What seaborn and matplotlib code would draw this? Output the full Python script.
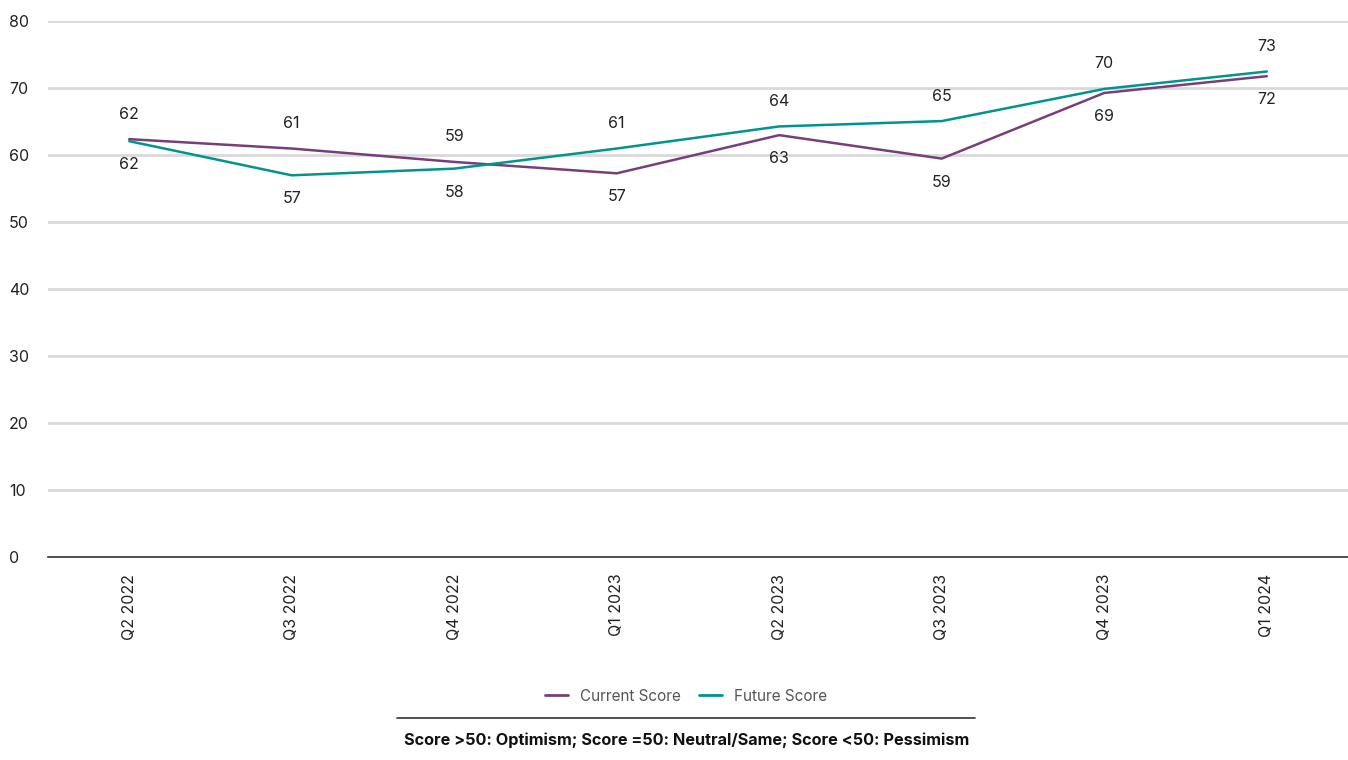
import pandas as pd
import numpy as np
import matplotlib
matplotlib.use("Agg")
import matplotlib.pyplot as plt
import seaborn as sns

# data
quarters = ['Q2 2022', 'Q3 2022', 'Q4 2022', 'Q1 2023', 'Q2 2023', 'Q3 2023', 'Q4 2023', 'Q1 2024']
current = [62.4, 61.0, 59.0, 57.3, 63.0, 59.5, 69.3, 71.8]
future = [62.1, 57.0, 58.0, 61.0, 64.3, 65.1, 69.9, 72.5]
current_labels = [62, 61, 59, 57, 63, 59, 69, 72]
future_labels = [62, 57, 58, 61, 64, 65, 70, 73]

purple = '#773F7A'
teal = '#00948F'

sns.set_theme(style='white')
plt.rcParams['font.family'] = ['Inter', 'DejaVu Sans']

df = pd.DataFrame({
    'Quarter': quarters * 2,
    'Score': current + future,
    'Series': ['Current Score'] * len(quarters) + ['Future Score'] * len(quarters),
})

fig = plt.figure(figsize=(13.48, 7.6), dpi=100)
ax = fig.add_axes([0.0356, 0.267, 0.9644, 0.705])

sns.lineplot(data=df, x='Quarter', y='Score', hue='Series', sort=False,
             palette=[purple, teal], linewidth=1.8, ax=ax, legend=False)

ax.set_ylim(0, 80)
ax.set_xlim(-0.5, 7.5)
ax.set_yticks(range(0, 81, 10))
ax.yaxis.grid(True, color='#d9d9d9', linewidth=2)
ax.set_axisbelow(True)
for s in ['left', 'right', 'top']:
    ax.spines[s].set_visible(False)
ax.spines['bottom'].set_color('#333333')
ax.spines['bottom'].set_linewidth(1.2)
ax.set_xlabel('')
ax.set_ylabel('')
ax.tick_params(axis='y', length=0, labelsize=11.5, labelcolor='#222222', pad=28)
for t in ax.get_yticklabels():
    t.set_horizontalalignment('left')
ax.set_xticks(range(len(quarters)))
ax.set_xticklabels(quarters, rotation=90, fontsize=11.5, color='#222222')
ax.tick_params(axis='x', length=0, pad=12)

# data labels: higher series above, lower below
for i in range(len(quarters)):
    c, f = current[i], future[i]
    if c >= f:
        off_c, off_f = 18, -17
    else:
        off_c, off_f = -17, 18
    ax.annotate(str(current_labels[i]), (i, c), xytext=(0, off_c), textcoords='offset points',
                ha='center', va='center', fontsize=11.5, color='#222222')
    ax.annotate(str(future_labels[i]), (i, f), xytext=(0, off_f), textcoords='offset points',
                ha='center', va='center', fontsize=11.5, color='#222222')

# legend
handles = [plt.Line2D([], [], color=purple, linewidth=2), plt.Line2D([], [], color=teal, linewidth=2)]
fig.legend(handles, ['Current Score', 'Future Score'], loc='center', bbox_to_anchor=(0.509, 0.084),
           ncol=2, frameon=False, fontsize=11, handlelength=1.5, columnspacing=1.2,
           labelcolor='#555555')

fig.add_artist(plt.Line2D([397 / 1348, 975 / 1348], [1 - 718 / 760, 1 - 718 / 760],
                          color='#333333', linewidth=1.2))
fig.text(0.509, 1 - 740 / 760, 'Score >50: Optimism; Score =50: Neutral/Same; Score <50: Pessimism',
         ha='center', va='center', fontsize=11.7, fontweight='bold', color='#111111')

fig.savefig('out.png', dpi=100)
